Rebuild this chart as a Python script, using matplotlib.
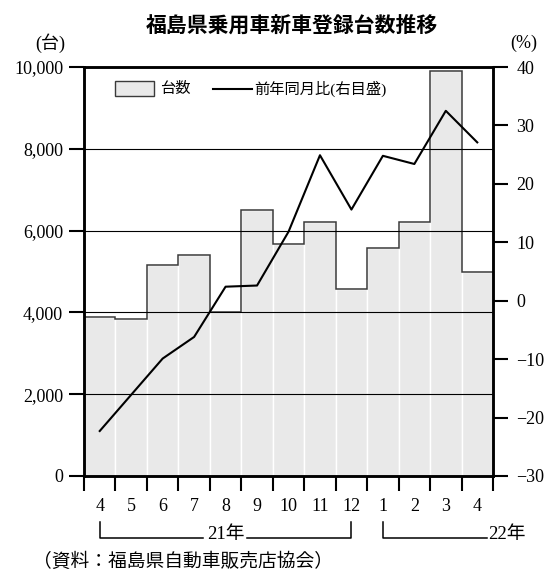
import matplotlib
matplotlib.use("Agg")
import matplotlib.pyplot as plt
import matplotlib.transforms as mtransforms
from matplotlib.patches import Rectangle
from matplotlib.lines import Line2D

# 福島県 乗用車新車登録台数（2021年4月〜2022年4月）
months = ["4", "5", "6", "7", "8", "9", "10", "11", "12", "1", "2", "3", "4"]
units = [3890, 3830, 5150, 5410, 4020, 6510, 5680, 6200, 4580, 5570, 6200, 9900, 4990]
yoy_pct = [-22.3, -16.1, -9.9, -6.2, 2.4, 2.6, 11.8, 24.9, 15.6, 24.8, 23.4, 32.5, 27.1]
left_ticks = [0, 2000, 4000, 6000, 8000, 10000]
left_labels = ["0", "2,000", "4,000", "6,000", "8,000", "10,000"]
right_ticks = [-30, -20, -10, 0, 10, 20, 30, 40]
right_labels = ["\u221230", "\u221220", "\u221210", "0", "10", "20", "30", "40"]

W, H = 551, 574
SERIF = ["Liberation Serif", "Noto Sans CJK JP"]
CJK = ["Noto Sans CJK JP", "DejaVu Sans"]
plt.rcParams["font.family"] = SERIF


def fx(x):
    return x / W


def fy(y):
    return 1 - y / H


fig = plt.figure(figsize=(W / 100, H / 100), dpi=100)
ax = fig.add_axes([fx(84), fy(476), (493 - 84) / W, (476 - 67) / H])

n = len(months)
centers = [i + 0.5 for i in range(n)]
edges = list(range(n + 1))

# bars with thin white separators, dark step outline along the tops
ax.bar(centers, units, width=1.0, color="#e9e9e9", edgecolor="white",
       linewidth=1.0, zorder=1)
ax.stairs(units, edges, baseline=None, color="#3a3a3a", linewidth=1.1, zorder=1.5)

ax.set_xlim(0, n)
ax.set_ylim(0, 10000)
ax.set_yticks(left_ticks)
ax.set_yticklabels(left_labels)
ax.yaxis.grid(True, color="black", linewidth=0.8)
ax.set_axisbelow(False)
for g in ax.get_ygridlines():
    g.set_zorder(2)

ax.set_xticks(edges)
ax.set_xticklabels([])
ax.set_xticks(centers, minor=True)
ax.set_xticklabels(months, minor=True)
ax.tick_params(axis="x", which="major", direction="out", length=11, width=1.5)
ax.tick_params(axis="x", which="minor", length=0, pad=16, labelsize=13)
ax.tick_params(axis="y", direction="out", length=11, width=1.5, pad=4, labelsize=13)

for sp in ax.spines.values():
    sp.set_linewidth(1.8)

# year-over-year change on the right axis
ax2 = ax.twinx()
ax2.plot(centers, yoy_pct, color="black", linewidth=1.5, zorder=3)
ax2.set_ylim(-30, 40)
ax2.set_yticks(right_ticks)
ax2.set_yticklabels(right_labels)
ax2.tick_params(axis="y", direction="out", length=11, width=1.5, pad=6, labelsize=13)
for sp in ax2.spines.values():
    sp.set_linewidth(1.8)

# title and unit labels
fig.text(fx(292), fy(25), "福島県乗用車新車登録台数推移", ha="center", va="center",
         fontsize=15, fontweight="bold", family=CJK)
fig.text(fx(50), fy(43.5), "(台)", ha="center", va="center", fontsize=13)
fig.text(fx(524), fy(43.5), "(%)", ha="center", va="center", fontsize=13)

# legend
fig.add_artist(Rectangle((fx(115), fy(96)), (154 - 115) / W, (96 - 81) / H,
                         transform=fig.transFigure, facecolor="#e9e9e9",
                         edgecolor="#3a3a3a", linewidth=1.0))
fig.text(fx(160), fy(88.5), "台数", ha="left", va="center", fontsize=11)
fig.add_artist(Line2D([fx(213), fx(251.5)], [fy(88.5), fy(88.5)],
                      transform=fig.transFigure, color="black", linewidth=1.5))
fig.text(fx(254), fy(88.5), "前年同月比(右目盛)", ha="left", va="center", fontsize=11)

# year brackets below the month labels
bt = mtransforms.blended_transform_factory(ax.transData, fig.transFigure)
y_top, y_bot = fy(521.5), fy(537.5)
bracket_kw = dict(transform=bt, color="black", linewidth=1.1, clip_on=False)
fig.add_artist(Line2D([0.5, 0.5, 3.79], [y_top, y_bot, y_bot], **bracket_kw))
fig.add_artist(Line2D([5.18, 8.5, 8.5], [y_bot, y_bot, y_top], **bracket_kw))
fig.text(4.5, fy(535), "21年", transform=bt, ha="center", va="center", fontsize=13.5)
fig.add_artist(Line2D([9.5, 9.5, 12.81], [y_top, y_bot, y_bot], **bracket_kw))
fig.text(12.86, fy(535), "22年", transform=bt, ha="left", va="center", fontsize=13.5)

# source note
fig.text(fx(33), fy(561), "（資料：福島県自動車販売店協会）", ha="left", va="center",
         fontsize=13.5, family=CJK)

fig.savefig("out.png", dpi=100)
